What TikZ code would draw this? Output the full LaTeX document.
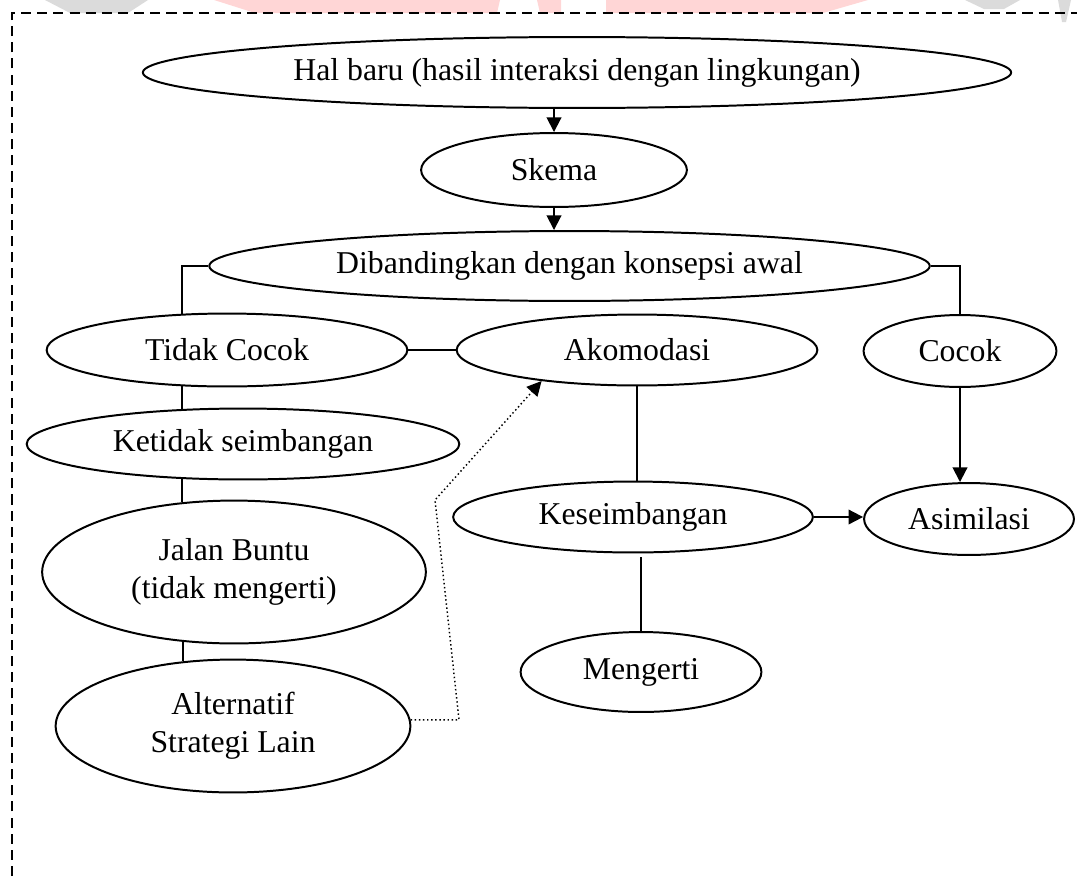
\documentclass[tikz,border=0pt]{standalone}
\usepackage{fontspec}
\setmainfont{Liberation Serif}
\usetikzlibrary{shapes.geometric,arrows.meta}

\tikzset{
  ell/.style 2 args={draw, ellipse, line width=0.75pt, inner sep=0pt,
    minimum width=#1*0.3774pt, minimum height=#2*0.3774pt,
    align=center, font=\fontsize{12}{14.3}\selectfont},
  link/.style={line width=0.7pt},
  flow/.style={line width=0.7pt, -{Triangle[length=5.5pt,width=5.5pt]}},
  hint/.style={line width=0.55pt, densely dotted, -{Triangle[length=5.5pt,width=5.5pt]}},
  frame/.style={line width=0.5pt, dash pattern=on 3.8pt off 2.3pt},
}

\begin{document}
\begin{tikzpicture}[x=0.013268cm, y=-0.013268cm]
\useasboundingbox (0,0) rectangle (1077,876);

%=== watermark remains along the top edge ===
\fill[red!16] (214,0) -- (500,0) -- (497,13) -- (255,13) -- cycle;
\fill[red!16] (537,0) -- (561,0) -- (561,13) -- (540,13) -- cycle;
\fill[red!16] (606,0) -- (868,0) -- (823,13) -- (606,13) -- cycle;
\fill[gray!28] (45,0) -- (148,0) -- (128,13) -- (70,13) -- cycle;
\fill[gray!28] (965,0) -- (1020,0) -- (1004,9) -- (984,9) -- cycle;
\fill[gray!28] (1058,0) -- (1071,0) -- (1066,22) -- (1062,22) -- cycle;

%=== dashed frame (left and top) ===
\draw[frame] (12,876) -- (12,13) -- (1077,13);

%=== top chain ===
\node[ell={869}{71}] (hal) at (577,72.5) {Hal baru (hasil interaksi dengan lingkungan)};
\node[ell={266}{74}] (skm) at (554,170) {Skema};
\node[ell={721}{70}] (bnd) at (569.5,266) {Dibandingkan dengan konsepsi awal};

%=== second row ===
\node[ell={361}{73}] (tdk) at (227,350) {Tidak Cocok};
\node[ell={361}{71}] (akm) at (637,350) {Akomodasi};
\node[ell={193}{72}] (cck) at (960,351) {Cocok};

%=== left column ===
\node[ell={433}{71}] (ktd) at (243,444) {Ketidak seimbangan};
\node[ell={384}{143}] (jln) at (234,572) {Jalan Buntu\\(tidak mengerti)};
\node[ell={355}{133}] (alt) at (233,726) {Alternatif\\Strategi Lain};

%=== right part ===
\node[ell={360}{71}] (ksb) at (633,517) {Keseimbangan};
\node[ell={210}{72}] (asm) at (969,519) {Asimilasi};
\node[ell={241}{80}] (mgt) at (641,672) {Mengerti};

% bends of the dotted path
\coordinate (bendA) at (459,719);
\coordinate (bendB) at (435,500);

%=== connectors ===
\draw[flow] (hal.south -| skm.north) -- (skm.north);
\draw[flow] (skm.south) -- (skm.south |- bnd.north);
\draw[link] (bnd.west) -| (tdk.141);
\draw[link] (bnd.east) -| (cck.north);
\draw[link] (tdk.east) -- (akm.west);
\draw[link] (tdk.219) -- (tdk.219 |- ktd.150);
\draw[link] (ktd.210) -- (ktd.210 |- jln.126);
\draw[link] (jln.234) -- (jln.234 |- alt.128);
\draw[link] (akm.south) -- (akm.south |- ksb.north);
\draw[link, shorten >=1.5pt] (mgt.north) -- (mgt.north |- ksb.south);
\draw[flow] (cck.south) -- (cck.south |- asm.north);
\draw[flow] (ksb.east) -- (ksb.east -| asm.west);
\draw[hint] (alt.2) -- (alt.2 -| bendA) -- (bendB) -- (akm.198);

\end{tikzpicture}
\end{document}
